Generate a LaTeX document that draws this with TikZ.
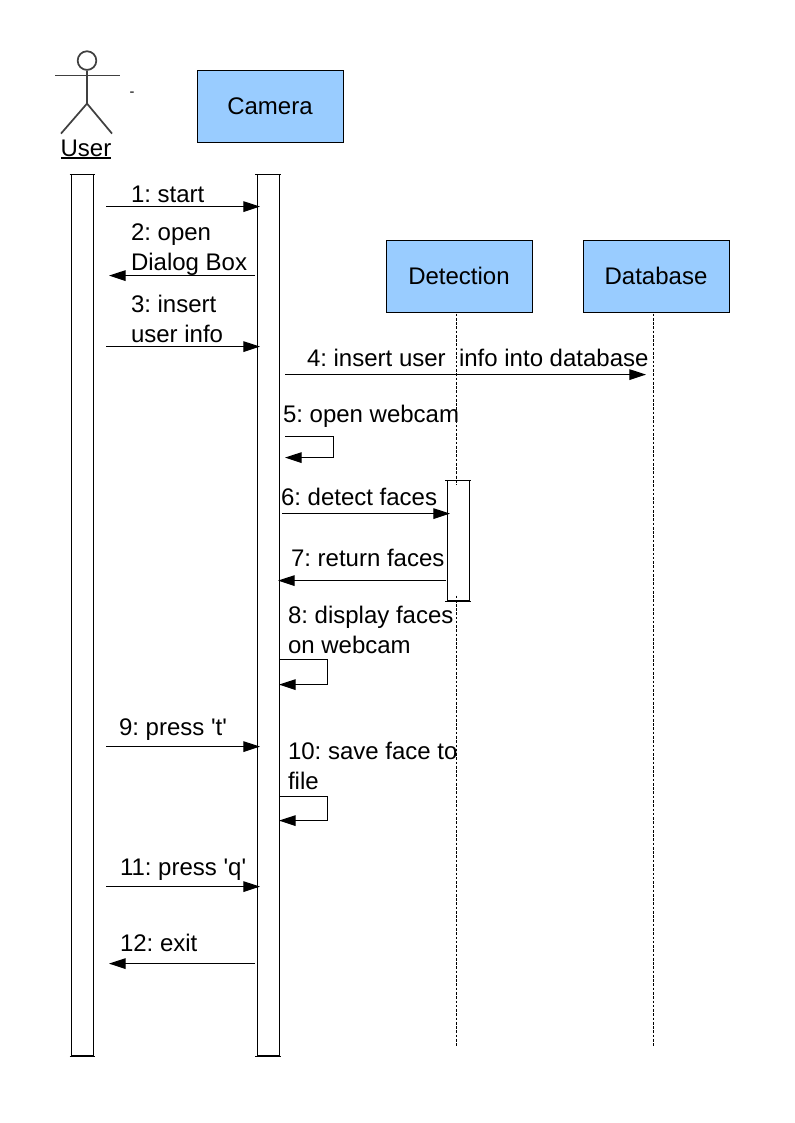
\documentclass[tikz,border=0pt]{standalone}
\usepackage{fontspec}
\setmainfont{Liberation Sans}
\newfontfamily\plainquote{Liberation Sans}
\newcommand{\sq}{{\plainquote\char39 }}
\usetikzlibrary{arrows.meta}
\tikzset{
  lbl/.style={anchor=base west,inner sep=0pt,outer sep=0pt,font=\fontsize{18}{22.5}\selectfont,align=left},
  objbox/.style={draw=black,fill=objblue,line width=0.75pt,minimum width=109.5pt,minimum height=54pt,inner sep=0pt,font=\fontsize{18}{22.5}\selectfont},
  msg/.style={line width=0.75pt,-{Triangle[length=12.5pt,width=8pt]}},
  life/.style={line width=0.6pt,dash pattern=on 2pt off 1.2pt},
  barbox/.style={draw=black,fill=white,line width=0.75pt,minimum width=16.5pt,inner sep=0pt},
  tick/.style={line width=0.75pt},
  actor/.style={line width=1.3pt,draw=black!75}
}
\definecolor{objblue}{HTML}{99CCFF}
\begin{document}
\frenchspacing
\begin{tikzpicture}[x=0.75pt,y=-0.75pt]
\useasboundingbox (0,-0.6) rectangle (794,1122.4);
% object boxes
\node[objbox] (camera) at (270,106) {\raisebox{0.8pt}{Camera}};
\node[objbox] (detection) at (459,276) {\raisebox{0.8pt}{Detection}};
\node[objbox] (database) at (656,276) {\raisebox{0.8pt}{Database}};
% lifelines
\coordinate (detEnd) at (456.5,1046);
\coordinate (dbEnd) at (653,1046);
\coordinate (detTop) at (456.5,313);
\coordinate (dbTop) at (653,313);
\draw[life] (detTop) -- (detEnd);
\draw[life] (dbTop) -- (dbEnd);
% activation bars
\node[barbox,minimum height=660.75pt] (userbar) at (82.5,614.5) {};
\node[barbox,minimum height=660.75pt] (cambar) at (268,614.5) {};
\node[barbox,minimum height=90pt] (detbar) at (458,540) {};
\draw[life] (456.5,471) -- (456.5,484);
\draw[life] (456.5,595) -- (456.5,606);
\foreach \n in {userbar,cambar,detbar}{
  \draw[tick] ([xshift=-1pt]\n.north west) -- ([xshift=1pt]\n.north east);
  \draw[tick] ([xshift=-1pt]\n.south west) -- ([xshift=1pt]\n.south east);
}
% actor
\node[draw=black!75,line width=1.3pt,circle,minimum size=14pt,inner sep=0pt] (head) at (87,60) {};
\coordinate (neck) at (87,103);
\coordinate (armL) at (55,75);
\coordinate (armR) at (120,75);
\coordinate (legL) at (61,133);
\coordinate (legR) at (112,133);
\draw[actor] (head.south) -- (neck);
\draw[actor] (armL) -- (armR);
\draw[actor] (legL) -- (neck) -- (legR);
\node[inner sep=0pt,font=\fontsize{18}{22.5}\selectfont,anchor=base] (user) at (86,156) {User};
\coordinate (ulL) at (61,157.5);
\coordinate (ulR) at (111,157.5);
\draw[line width=0.9pt] (ulL) -- (ulR);
\node[inner sep=0pt,font=\fontsize{11}{12}\selectfont] (dash) at (132,94) {-};
% message end points
\foreach \nm/\x/\y in {a1/106/206,b1/260/206,a2/255/275,b2/109/275,a3/106/346,b3/260/346,a4/285/374,b4/646/374,
  a5/285/436,c5/333/436,d5/333/457,b5/285/457,a6/282/513,b6/450/513,a7/446/580,b7/278/580,
  a8/279/659,c8/327/659,d8/327/684,b8/279/684,a9/106/746,b9/260/746,
  a10/279/796,c10/327/796,d10/327/820,b10/279/820,a11/106/886,b11/260/886,a12/255/963,b12/109/963}
  {\coordinate (\nm) at (\x,\y);}
\foreach \i in {1,2,3,4,6,7,9,11,12}{\draw[msg] (a\i) -- (b\i);}
\foreach \i in {5,8,10}{\draw[msg] (a\i) -- (c\i) -- (d\i) -- (b\i);}
% labels
\node[lbl] (m1) at (131,201.5) {1: start};
\node[lbl] (m2a) at (131,239.5) {2: open};
\node[lbl] (m2b) at (131,269.5) {Dialog Box};
\node[lbl] (m3a) at (131,311.5) {3: insert};
\node[lbl] (m3b) at (131,341.5) {user info};
\node[lbl] (m4) at (307,365.5) {4: insert user\ \ info into database};
\node[lbl] (m5) at (283,421.5) {5: open webcam};
\node[lbl] (m6) at (281,504.5) {6: detect faces};
\node[lbl] (m7) at (291,565.5) {7: return faces};
\node[lbl] (m8a) at (288,622.5) {8: display faces};
\node[lbl] (m8b) at (288,652.5) {on webcam};
\node[lbl] (m9) at (119,734.5) {9: press \sq t\sq};
\node[lbl] (m10a) at (288,758.5) {10: save face to};
\node[lbl] (m10b) at (288,788.5) {file};
\node[lbl] (m11) at (120,874.5) {11: press \sq q\sq};
\node[lbl] (m12) at (120,950.5) {12: exit};
\end{tikzpicture}
\end{document}
